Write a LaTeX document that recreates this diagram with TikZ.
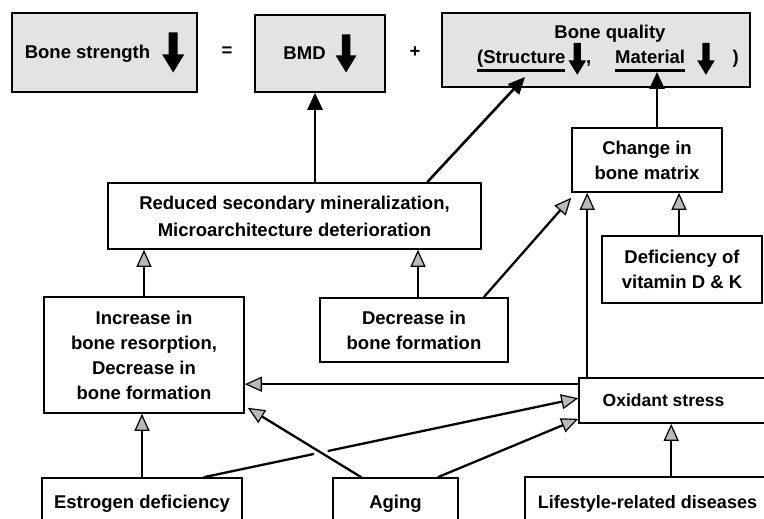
\documentclass[tikz,border=0pt]{standalone}
\usepackage{fontspec}
\setmainfont{Liberation Sans}
\usetikzlibrary{arrows.meta, calc, intersections}
% thick down arrow used inside the top boxes
\newcommand{\dn}[1][1]{\tikz[x=#1pt,y=#1pt,baseline=#1*14pt]
	\fill (-4.5,40) -- (4.5,40) -- (4.5,18) -- (11,18) -- (0,0) -- (-11,18) -- (-4.5,18) -- cycle;}
% word with a heavy underline
\newcommand{\undl}[1]{\vtop{\hbox{\vphantom{(}#1}\kern2pt\hrule height 2.5pt}}

\begin{document}
\begin{tikzpicture}[x=1pt, y=-1pt,
	font=\fontsize{18.5}{25}\selectfont\bfseries,
	box/.style={draw, line width=1.6pt, inner sep=0pt, align=center},
	topbox/.style={box, fill=gray!22},
	link/.style={line width=2.3pt, -{Triangle[length=17pt,width=15pt,line width=1.2pt,fill=gray!55]}},
	blk/.style={line width=2.6pt, -{Triangle[length=17pt,width=15pt]}}]
	\useasboundingbox (0,0) rectangle (764,519);
	% top row
	\node[topbox, minimum width=185pt, minimum height=79pt] (strength) at (104.5,52.5) {Bone strength\hspace{12pt}\dn};
	\node (equals) at (227,52) {=};
	\node[topbox, minimum width=130pt, minimum height=77pt] (bmd) at (320,53.5) {BMD\hspace{10pt}\dn[0.95]};
	\node (plus) at (415,52) {+};
	\node[topbox, minimum width=308pt, minimum height=74pt] (quality) at (596,50)
		{\hspace*{28pt}Bone quality\\
		\hspace*{24pt}\undl{(Structure}\hspace{3pt}\dn[0.8],\hspace{24pt}\undl{Material}\hspace{12pt}\dn[0.8]\hspace{18pt})};
	\coordinate (structure) at (525,77);
	\coordinate (material) at (657,72);
	% middle
	\node[box, minimum width=150pt, minimum height=64pt] (change) at (647,160) {Change in\\bone matrix};
	\node[box, minimum width=373pt, minimum height=66pt, font=\fontsize{18.5}{27}\selectfont\bfseries] (reduced) at (294.5,216)
		{Reduced secondary mineralization,\\Microarchitecture deterioration};
	\node[box, minimum width=160pt, minimum height=67pt] (deficiency) at (682,269.5) {Deficiency of\\vitamin D \& K};
	\node[box, minimum width=200pt, minimum height=116pt] (increase) at (144,355)
		{Increase in\\bone resorption,\\Decrease in\\bone formation};
	\node[box, minimum width=188pt, minimum height=64pt] (decrease) at (414,330) {Decrease in\\bone formation};
	\node[box, minimum width=201pt, minimum height=45pt, font=\fontsize{17.5}{21}\selectfont\bfseries] (oxidant) at (679.5,400.5) {Oxidant stress\hspace*{32pt}};
	% bottom row
	\node[box, minimum width=200pt, minimum height=52pt] (estrogen) at (142,504) {Estrogen deficiency};
	\node[box, minimum width=125pt, minimum height=52pt] (aging) at (395.5,504) {Aging};
	\node[box, minimum width=261pt, minimum height=53pt, font=\fontsize{18}{22}\selectfont\bfseries] (lifestyle) at (655.5,503.5) {Lifestyle-related diseases\hspace*{16pt}};

	% into the top row
	\coordinate (bmdin) at ([xshift=-5pt]bmd.south);
	\draw[blk] (bmdin |- reduced.north) -- (bmdin);
	\draw[blk] ([xshift=320pt]reduced.north west) -- (structure);
	\draw[blk] (change.north -| material) -- (material);
	% middle links
	\draw[link] (increase.north) -- (increase.north |- reduced.south);
	\coordinate (decout) at ([xshift=4pt]decrease.north);
	\draw[link] (decout) -- (decout |- reduced.south);
	\draw[link] ([xshift=-25pt]decrease.north east) -- ([yshift=-5pt]change.south west);
	\coordinate (defout) at ([xshift=-3pt]deficiency.north);
	\draw[link] (defout) -- (defout |- change.south);
	\coordinate (oxtop) at ([xshift=9pt]oxidant.north west);
	\draw[link] (oxtop) -- (oxtop |- change.south);
	\coordinate (oxleft) at ([yshift=-7pt]oxidant.north west);
	\draw[link] (oxleft) -- (oxleft -| increase.east);
	% bottom links
	\draw[link] (estrogen.north) -- (estrogen.north |- increase.south);
	\coordinate (estout) at ([xshift=-39pt]estrogen.north east);
	\coordinate (oxin1) at ([yshift=-21pt]oxidant.north west);
	\coordinate (ageout1) at ([xshift=29pt]aging.north west);
	\coordinate (incin) at ([xshift=3pt,yshift=6pt]increase.south east);
	\coordinate (ageout2) at ([xshift=-21pt]aging.north east);
	\coordinate (oxin2) at ([yshift=5pt]oxidant.south west);
	\path[name path=agepath] (ageout1) -- (incin);
	\path[name path=estpath] (estout) -- (oxin1);
	\path[name intersections={of=agepath and estpath, by=cross}];
	\draw[line width=2.3pt] (estout) -- ($(cross)!7pt!(estout)$);
	\draw[link] ($(cross)!7pt!(oxin1)$) -- (oxin1);
	\draw[link] (ageout1) -- (incin);
	\draw[link] (ageout2) -- (oxin2);
	\coordinate (lifeout) at ([xshift=147pt]lifestyle.north west);
	\draw[link] (lifeout) -- (lifeout |- oxidant.south);
\end{tikzpicture}
\end{document}
